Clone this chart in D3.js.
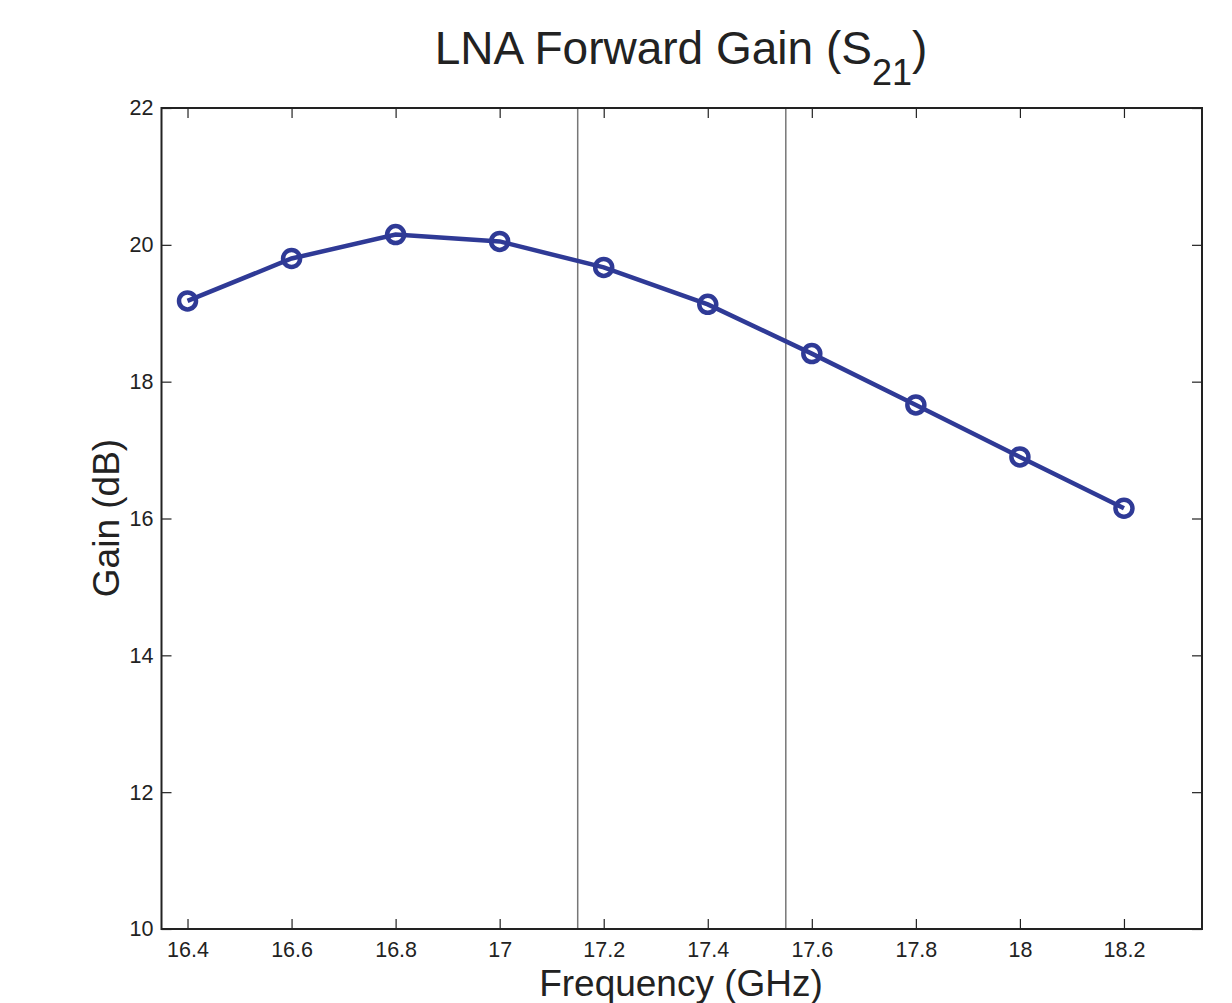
<!DOCTYPE html>
<html><head><meta charset="utf-8">
<script src="https://cdn.jsdelivr.net/npm/d3@7"></script>
<style>body{margin:0;background:#fff;} text{font-family:"Liberation Sans",Arial,Helvetica,sans-serif;fill:#222;}</style>
</head><body>
<svg id="chart" width="1232" height="1003"></svg>
<script>
const freqs = [16.4, 16.6, 16.8, 17.0, 17.2, 17.4, 17.6, 17.8, 18.0, 18.2];
const gains = [19.18, 19.80, 20.15, 20.05, 19.67, 19.13, 18.41, 17.66, 16.90, 16.15];
const xTicks = [16.4, 16.6, 16.8, 17.0, 17.2, 17.4, 17.6, 17.8, 18.0, 18.2];
const yTicks = [10, 12, 14, 16, 18, 20, 22];
const markerLines = [17.15, 17.55];

const svg = d3.select("#chart");
const L = 161.5, R = 1202, T = 108, B = 929;
const x = d3.scaleLinear().domain([16.35, 18.35]).range([L, R]);
const y = d3.scaleLinear().domain([10, 22]).range([B, T]);
const fmt = d => String(+d.toFixed(1));

// marker vertical lines
svg.append("g").selectAll("line").data(markerLines).join("line")
  .attr("x1", d => x(d)).attr("x2", d => x(d)).attr("y1", T).attr("y2", B)
  .attr("stroke", "#777").attr("stroke-width", 1.5);

// axes
const tl = 10;
svg.append("g").attr("transform", `translate(0,${B})`)
  .call(d3.axisBottom(x).tickValues(xTicks).tickSize(-tl).tickPadding(13).tickFormat(fmt))
  .call(g => g.select(".domain").remove())
  .call(g => g.selectAll("text").attr("font-size", 21.5).attr("fill", "#222"));
svg.append("g").attr("transform", `translate(0,${T})`)
  .call(d3.axisTop(x).tickValues(xTicks).tickSize(-tl).tickFormat(""))
  .call(g => g.select(".domain").remove());
svg.append("g").attr("transform", `translate(${L},0)`)
  .call(d3.axisLeft(y).tickValues(yTicks).tickSize(-tl).tickPadding(8).tickFormat(d3.format("d")))
  .call(g => g.select(".domain").remove())
  .call(g => g.selectAll("text").attr("font-size", 21.5).attr("fill", "#222"));
svg.append("g").attr("transform", `translate(${R},0)`)
  .call(d3.axisRight(y).tickValues(yTicks).tickSize(-tl).tickFormat(""))
  .call(g => g.select(".domain").remove());
svg.selectAll(".tick line").attr("stroke", "#222").attr("stroke-width", 1.2);

svg.append("rect").attr("x", L).attr("y", T).attr("width", R - L).attr("height", B - T)
  .attr("fill", "none").attr("stroke", "#222").attr("stroke-width", 2);

// data line
const pts = freqs.map((f, i) => [f, gains[i]]);
const blue = "#2f3a96";
svg.append("path").datum(pts)
  .attr("d", d3.line().x(d => x(d[0])).y(d => y(d[1])))
  .attr("fill", "none").attr("stroke", blue).attr("stroke-width", 4.5);
svg.append("g").selectAll("circle").data(pts).join("circle")
  .attr("cx", d => x(d[0])).attr("cy", d => y(d[1])).attr("r", 8.5)
  .attr("fill", "none").attr("stroke", blue).attr("stroke-width", 4.5);

// title
const title = svg.append("text").attr("x", 681).attr("y", 64).attr("text-anchor", "middle")
  .attr("font-size", 46);
title.append("tspan").text("LNA Forward Gain (S");
title.append("tspan").attr("dy", 21).attr("font-size", 36).text("21");
title.append("tspan").attr("dy", -21).text(")");

svg.append("text").attr("x", 681).attr("y", 996).attr("text-anchor", "middle")
  .attr("font-size", 37).text("Frequency (GHz)");
svg.append("text").attr("transform", `translate(119,518) rotate(-90)`)
  .attr("text-anchor", "middle").attr("font-size", 37).text("Gain (dB)");
</script>
</body></html>
